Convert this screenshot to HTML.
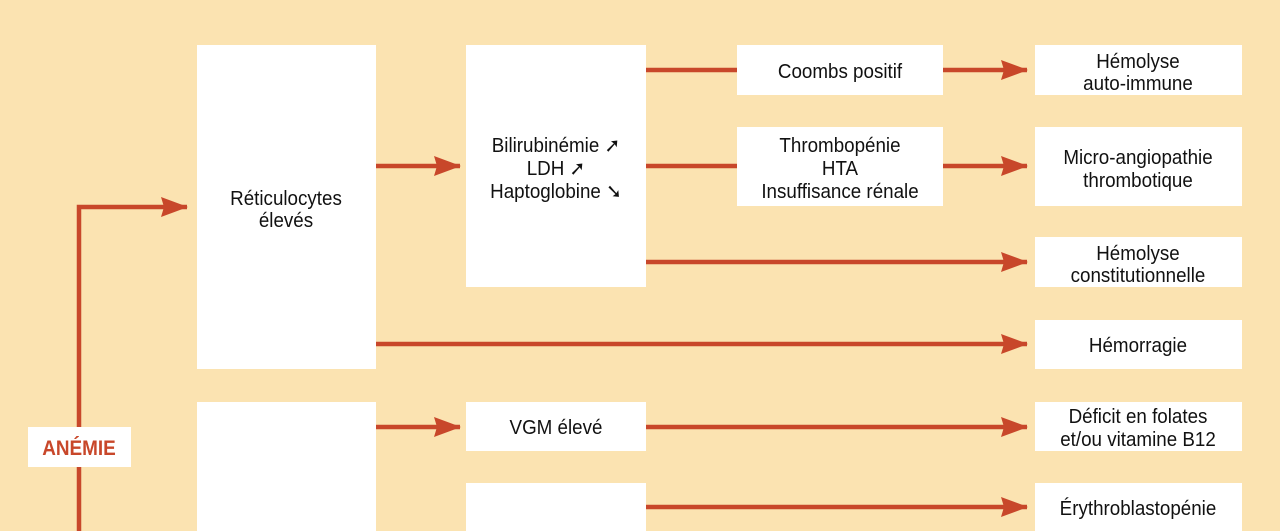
<!DOCTYPE html>
<html><head><meta charset="utf-8"><style>
html,body{margin:0;padding:0;background:#fbe3b1;}
svg{display:block}
text{font-family:"Liberation Sans",sans-serif;font-size:20px;fill:#111;text-anchor:middle;transform-box:fill-box;transform-origin:center;transform:scaleX(0.94)}
text.b{transform:scaleX(0.9)}
</style></head><body>
<svg width="1280" height="531" viewBox="0 0 1280 531" xmlns="http://www.w3.org/2000/svg">
<rect width="1280" height="531" fill="#fbe3b1"/>
<defs>
<marker id="a" markerWidth="27" markerHeight="22" refX="26" refY="11" orient="auto" markerUnits="userSpaceOnUse">
<path d="M0,1 L27,11 L0,21 L3,11 Z" fill="#c8472a"/>
</marker>
</defs>
<g fill="#fff">
<rect x="197" y="45" width="179" height="324"/>
<rect x="197" y="402" width="179" height="140"/>
<rect x="466" y="45" width="180" height="242"/>
<rect x="466" y="402" width="180" height="49"/>
<rect x="466" y="483" width="180" height="60"/>
<rect x="737" y="45" width="206" height="50"/>
<rect x="737" y="127" width="206" height="79"/>
<rect x="1035" y="45" width="207" height="50"/>
<rect x="1035" y="127" width="207" height="79"/>
<rect x="1035" y="237" width="207" height="50"/>
<rect x="1035" y="320" width="207" height="49"/>
<rect x="1035" y="402" width="207" height="49"/>
<rect x="1035" y="483" width="207" height="60"/>
<rect x="28" y="427" width="103" height="40"/>
</g>
<g stroke="#c8472a" stroke-width="4.5" fill="none">
<path d="M79,427 V207 H187" marker-end="url(#a)"/>
<path d="M79,467 V531"/>
<path d="M376,166 H460" marker-end="url(#a)"/>
<path d="M646,70 H737"/>
<path d="M943,70 H1027" marker-end="url(#a)"/>
<path d="M646,166 H737"/>
<path d="M943,166 H1027" marker-end="url(#a)"/>
<path d="M646,262 H1027" marker-end="url(#a)"/>
<path d="M376,344 H1027" marker-end="url(#a)"/>
<path d="M376,427 H460" marker-end="url(#a)"/>
<path d="M646,427 H1027" marker-end="url(#a)"/>
<path d="M646,507 H1027" marker-end="url(#a)"/>
</g>
<text class="b" x="79" y="455" style="font-weight:bold;fill:#c8472a;font-size:21px">ANÉMIE</text>
<text x="286" y="205">Réticulocytes</text>
<text x="286" y="227">élevés</text>
<text x="556" y="152">Bilirubinémie ➚</text>
<text x="556" y="175">LDH ➚</text>
<text x="556" y="198">Haptoglobine ➘</text>
<text x="840" y="78">Coombs positif</text>
<text x="840" y="152">Thrombopénie</text>
<text x="840" y="175">HTA</text>
<text x="840" y="198">Insuffisance rénale</text>
<text x="1138" y="68">Hémolyse</text>
<text x="1138" y="90">auto-immune</text>
<text x="1138" y="164">Micro-angiopathie</text>
<text x="1138" y="187">thrombotique</text>
<text x="1138" y="260">Hémolyse</text>
<text x="1138" y="282">constitutionnelle</text>
<text x="1138" y="352">Hémorragie</text>
<text x="1138" y="423">Déficit en folates</text>
<text x="1138" y="446">et/ou vitamine B12</text>
<text x="556" y="434">VGM élevé</text>
<text x="1138" y="515">Érythroblastopénie</text>
</svg>
</body></html>
